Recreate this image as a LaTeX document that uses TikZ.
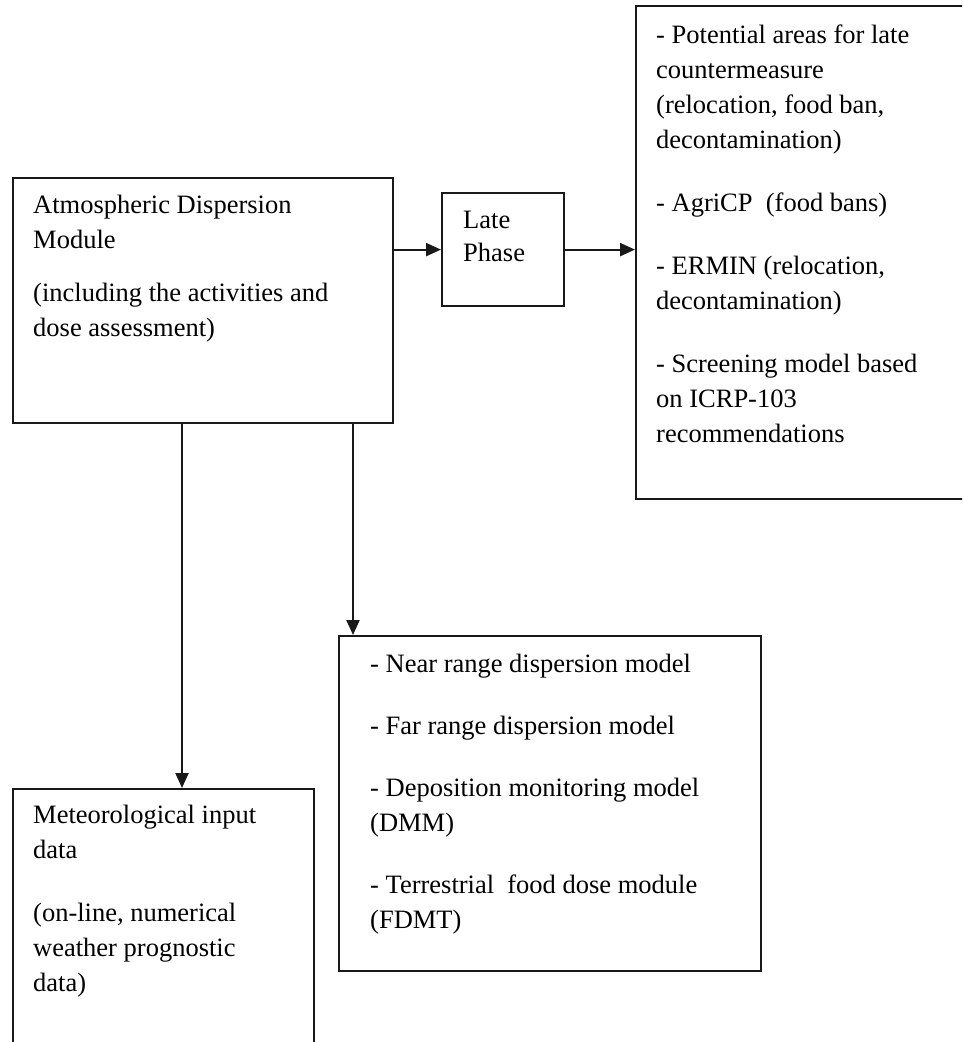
\documentclass[tikz,border=0pt]{standalone}
\usepackage{fontspec}
\setmainfont{Liberation Serif}
\usetikzlibrary{arrows.meta, positioning}
\tikzstyle{mbox}=[rectangle, draw=black!90, line width=2.2pt, anchor=north west,
  inner sep=0pt]
\tikzstyle{mtext}=[anchor=north west, align=left, inner sep=0pt,
  font=\fontsize{26.5}{35}\selectfont]
\tikzstyle{darr}=[-{Triangle[length=15pt, width=13pt]}, line width=2.2pt, draw=black!90]

\begin{document}
\begin{tikzpicture}[x=1pt, y=-1pt]
    \useasboundingbox (0,0) rectangle (962,1042);
    \clip (0,0) rectangle (962,1042);
    % boxes
    \node[mbox, minimum width=380pt, minimum height=245pt] (atm) at (12,177) {};
    \node[mbox, minimum width=122pt, minimum height=113pt] (late) at (441,192) {};
    \node[mbox, minimum width=365pt, minimum height=493pt] (out) at (635,5) {};
    \node[mbox, minimum width=422pt, minimum height=335pt] (near) at (338,635) {};
    \node[mbox, minimum width=301pt, minimum height=292pt] (met) at (12,788) {};
    % texts
    \node[mtext] (atmtxt) at ([shift={(21,18)}]atm.north west)
      {Atmospheric Dispersion\\Module\\[18pt](including the activities and\\dose assessment)};
    \node[mtext, font=\fontsize{26.5}{33}\selectfont] (latetxt) at ([shift={(22,19)}]late.north west)
      {Late\\Phase};
    \node[mtext] (outtxt) at ([shift={(21,20)}]out.north west)
      {- Potential areas for late\\countermeasure\\(relocation, food ban,\\decontamination)\\[28pt]%
       - AgriCP~~(food bans)\\[28pt]- ERMIN (relocation,\\decontamination)\\[28pt]%
       - Screening model based\\on ICRP-103\\recommendations};
    \node[mtext] (neartxt) at ([shift={(32,19)}]near.north west)
      {- Near range dispersion model\\[27pt]- Far range dispersion model\\[27pt]%
       - Deposition monitoring model\\(DMM)\\[27pt]- Terrestrial~~food dose module\\(FDMT)};
    \node[mtext] (mettxt) at ([shift={(21,17)}]met.north west)
      {Meteorological input\\data\\[28pt](on-line, numerical\\weather prognostic\\data)};
    % connectors
    \coordinate (d1) at ([xshift=170pt]atm.south west);
    \coordinate (d2) at ([xshift=341pt]atm.south west);
    \draw[darr] (late.west -| atm.east) -- (late.west);
    \draw[darr] (late.east) -- (late.east -| out.west);
    \draw[darr] (d1) -- (d1 |- met.north);
    \draw[darr] (d2) -- (d2 |- near.north);
  \end{tikzpicture}
\end{document}
